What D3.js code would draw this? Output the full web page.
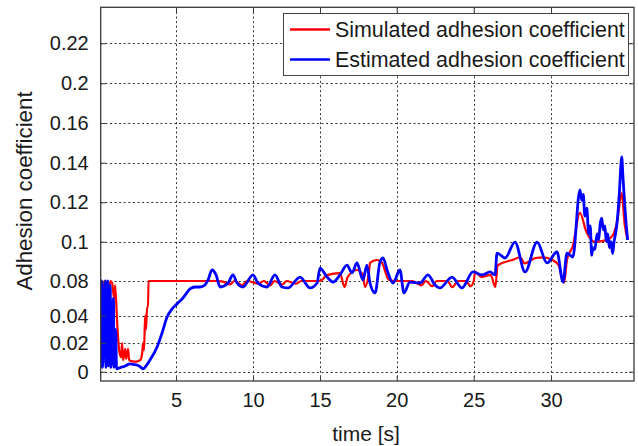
<!DOCTYPE html>
<html><head><meta charset="utf-8">
<script src="https://cdn.jsdelivr.net/npm/d3@7"></script>
<style>body{margin:0;background:#fff}svg{display:block}text{font-family:"Liberation Sans",Arial,sans-serif;fill:#1a1a1a}</style>
</head><body>
<script>
// ---- data ----
const xTicks = [5, 10, 15, 20, 25, 30];
const yTicks = [0, 0.02, 0.04, 0.08, 0.1, 0.12, 0.14, 0.16, 0.2, 0.22];
const yTickLabels = ["0", "0.02", "0.04", "0.08", "0.1", "0.12", "0.14", "0.16", "0.2", "0.22"];
const seriesNames = ["Simulated adhesion coefficient", "Estimated adhesion coefficient"];
const seriesColors = ["#ff0000", "#0000ff"];

const simT = [0.06,0.1,0.13,0.2,0.26,0.32,0.39,0.45,0.52,0.58,0.65,0.71,0.84,0.97,1.04,1.17,1.3,1.43,1.49,1.56,1.69,1.75,1.88,1.95,2.34,2.66,2.79,2.86,2.92,2.99,3.05,3.12,3.18,3.21,
  7.6,8.0,8.5,8.8,9.3,9.6,10.4,10.8,11.3,11.6,12.2,12.5,13.2,13.6,14.5,15.0,15.46,16.3,16.6,16.8,17.4,17.8,17.93,18.2,18.26,18.7,19.0,19.5,20.0,21.0,21.6,21.9,22.3,22.6,23.3,23.6,24.0,24.5,24.8,25.0,25.1,25.5,26.1,26.4,26.55,27.5,28.0,28.3,29.0,29.5,30.1,30.5,30.7,30.85,31.04,31.42,31.88,32.3,32.85,33.6,34.0,34.3,34.6,34.8,34.99];
const simV = [0.031,0.031,0.08,0.06,0.04,0.08,0.05,0.03,0.08,0.06,0.05,0.08,0.078,0.06,0.075,0.035,0.015,0.01,0.02,0.008,0.016,0.009,0.016,0.008,0.007,0.008,0.012,0.02,0.015,0.04,0.03,0.05,0.05,0.08,
  0.08,0.0795,0.076,0.08,0.075,0.08,0.077,0.08,0.075,0.08,0.076,0.08,0.077,0.08,0.08,0.08,0.083,0.084,0.073,0.082,0.0856,0.0831,0.0731,0.085,0.0892,0.0907,0.0897,0.0805,0.08,0.08,0.075,0.08,0.074,0.08,0.08,0.073,0.08,0.08,0.074,0.08,0.0846,0.082,0.0831,0.073,0.088,0.0907,0.092,0.089,0.0917,0.092,0.0907,0.088,0.082,0.078,0.0907,0.0978,0.1146,0.105,0.1,0.1008,0.103,0.11,0.1246,0.1084,0.1009];

const estT = [0.11,0.17,0.21,0.4,0.44,0.56,0.6,0.72,0.76,0.93,0.97,1.08,1.13,1.4,1.7,2.0,2.3,2.6,2.86,3.05,3.31,3.77,4.09,4.42,4.74,5.06,5.45,5.91,6.23,6.56,6.88,7.08,7.34,7.6,7.86,8.38,8.7,8.96,9.35,10.0,10.37,11.04,11.64,12.16,12.61,13.51,14.25,14.78,15.0,15.46,15.85,16.3,16.76,17.09,17.41,17.8,18.06,18.26,18.59,18.91,19.11,19.37,19.76,20.21,20.47,20.86,21.51,22.03,22.49,22.81,23.59,24.24,24.95,25.54,26.06,26.38,26.51,27.03,27.67,28.32,29.1,29.74,30.39,30.78,31.04,31.42,31.88,32.0,32.1,32.2,32.33,32.45,32.55,32.65,32.72,32.85,33.0,33.1,33.2,33.3,33.4,33.5,33.6,33.69,33.8,33.9,34.01,34.1,34.2,34.3,34.45,34.55,34.6,34.68,34.79,34.9,34.99];
const estV = [0.003,0.08,0.003,0.08,0.003,0.08,0.004,0.075,0.003,0.06,0.003,0.03,0.002,0.003,0.004,0.0055,0.005,0.004,0.002,0.004,0.0082,0.0172,0.0273,0.039,0.0477,0.0535,0.0604,0.0708,0.0731,0.0731,0.0754,0.0805,0.0856,0.0831,0.0731,0.0777,0.0831,0.0777,0.0731,0.0831,0.0777,0.0731,0.0831,0.0731,0.072,0.082,0.072,0.0777,0.0866,0.082,0.0788,0.0831,0.0881,0.0841,0.0892,0.0805,0.0881,0.0777,0.0662,0.0897,0.0917,0.0856,0.0777,0.0856,0.0662,0.0788,0.0777,0.0831,0.0754,0.072,0.082,0.072,0.0846,0.0831,0.0846,0.0831,0.0942,0.0917,0.0998,0.0846,0.0998,0.0892,0.0948,0.0788,0.0942,0.0922,0.1262,0.121,0.124,0.113,0.117,0.104,0.108,0.093,0.097,0.096,0.104,0.101,0.109,0.112,0.106,0.108,0.1,0.104,0.097,0.1,0.094,0.1,0.104,0.11,0.125,0.139,0.1429,0.133,0.1197,0.108,0.1009];

// ---- layout ----
const W = 638, H = 446;
const L = 100.7, R = 634, T = 7.3, B = 381;

const svg = d3.select("body").append("svg").attr("width", W).attr("height", H);

// piecewise (polylinear) scales matching the original non-uniform axes
const x = d3.scaleLinear()
  .domain([0.1, 5, 10, 15, 20, 25, 30, 35.4])
  .range([L, 176, 253, 320, 396.7, 473.7, 551, R]);
const y = d3.scaleLinear()
  .domain([-0.0065, 0, 0.02, 0.04, 0.08, 0.1, 0.12, 0.14, 0.16, 0.2, 0.22, 0.238])
  .range([B, 371.7, 343, 315.7, 281, 241.7, 202.3, 162.7, 123, 83.3, 43.3, T]);

// grid
const grid = svg.append("g").attr("stroke", "#333").attr("stroke-width", 1).attr("stroke-dasharray", "2,2.6");
grid.selectAll(".gx").data(xTicks).join("line")
  .attr("x1", d => Math.round(x(d)) + 0.5).attr("x2", d => Math.round(x(d)) + 0.5)
  .attr("y1", T).attr("y2", B);
grid.selectAll(".gy").data(yTicks).join("line")
  .attr("y1", d => Math.round(y(d)) + 0.5).attr("y2", d => Math.round(y(d)) + 0.5)
  .attr("x1", L).attr("x2", R);

// lines
svg.append("clipPath").attr("id", "clip").append("rect")
  .attr("x", L).attr("y", T).attr("width", R - L).attr("height", B - T);
const line = d3.line().curve(d3.curveMonotoneX).x(d => x(d[0])).y(d => y(d[1]));
const sim = simT.map((t, i) => [t, simV[i]]);
const est = estT.map((t, i) => [t, estV[i]]);
const plot = svg.append("g").attr("clip-path", "url(#clip)");
plot.append("path").datum(sim).attr("d", line).attr("fill", "none")
  .attr("stroke", seriesColors[0]).attr("stroke-width", 2.2).attr("stroke-linejoin", "round");
plot.append("path").datum(est).attr("d", line).attr("fill", "none")
  .attr("stroke", seriesColors[1]).attr("stroke-width", 2.8).attr("stroke-linejoin", "round");

// axes (box with inward ticks on all sides)
const axColor = "#3a3a3a";
const tickLen = 5;
const xAxisB = d3.axisBottom(x).tickValues(xTicks).tickSizeInner(-tickLen).tickSizeOuter(0).tickPadding(12);
const xAxisT = d3.axisTop(x).tickValues(xTicks).tickSizeInner(-tickLen).tickSizeOuter(0).tickFormat("");
const yAxisL = d3.axisLeft(y).tickValues(yTicks).tickSizeInner(-tickLen).tickSizeOuter(0).tickPadding(12)
  .tickFormat((d, i) => yTickLabels[i]);
const yAxisR = d3.axisRight(y).tickValues(yTicks).tickSizeInner(-tickLen).tickSizeOuter(0).tickFormat("");

function style(g) {
  g.select(".domain").remove();
  g.selectAll(".tick line").attr("stroke", axColor).attr("stroke-width", 1);
  g.selectAll(".tick text").attr("font-size", 20).attr("fill", "#1a1a1a")
    .attr("font-family", "'Liberation Sans', Arial, sans-serif");
}
svg.append("g").attr("transform", `translate(0,${B})`).call(xAxisB).call(style)
  .selectAll(".tick text").attr("dy", "0.71em").attr("y", 12);
svg.append("g").attr("transform", `translate(0,${T})`).call(xAxisT).call(style);
svg.append("g").attr("transform", `translate(${L},0)`).call(yAxisL).call(style);
svg.append("g").attr("transform", `translate(${R},0)`).call(yAxisR).call(style);

svg.append("rect").attr("x", L).attr("y", T).attr("width", R - L).attr("height", B - T)
  .attr("fill", "none").attr("stroke", axColor).attr("stroke-width", 1.3);

// axis titles
svg.append("text").attr("x", 366).attr("y", 441).attr("text-anchor", "middle")
  .attr("font-size", 21).text("time [s]");
svg.append("text").attr("transform", "translate(32,191) rotate(-90)").attr("text-anchor", "middle")
  .attr("font-size", 22.3).text("Adhesion coefficient");

// legend
const lg = svg.append("g");
lg.append("rect").attr("x", 283.5).attr("y", 13.5).attr("width", 345).attr("height", 62)
  .attr("fill", "#fff").attr("stroke", "#444").attr("stroke-width", 1);
seriesNames.forEach((name, i) => {
  const cy = 29.5 + i * 30;
  lg.append("line").attr("x1", 290).attr("x2", 330).attr("y1", cy).attr("y2", cy)
    .attr("stroke", seriesColors[i]).attr("stroke-width", 2.5);
  lg.append("text").attr("x", 335).attr("y", cy).attr("dy", "0.35em")
    .attr("font-size", 21.4).text(name);
});
</script>
</body></html>
